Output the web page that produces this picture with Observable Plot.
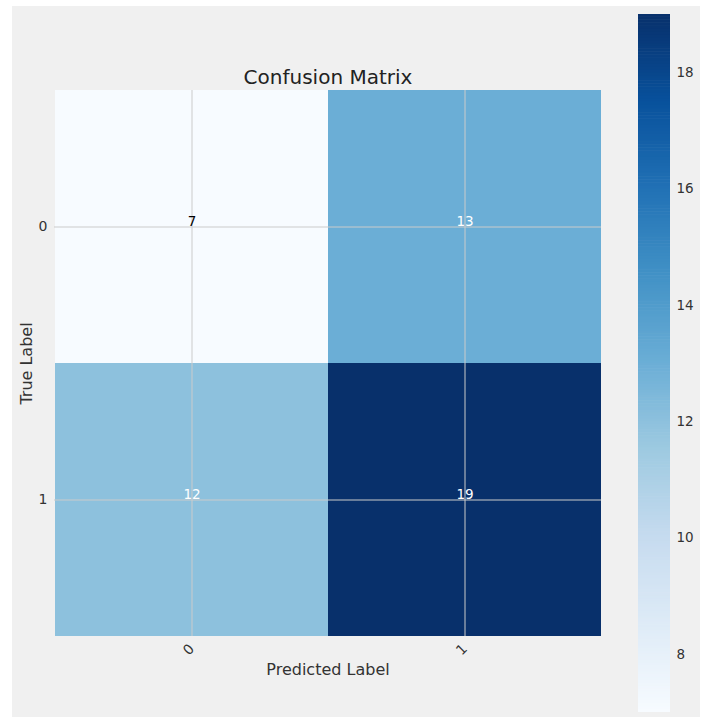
<!DOCTYPE html>
<html>
<head>
<meta charset="utf-8">
<script src="https://cdn.jsdelivr.net/npm/d3@7"></script>
<script src="https://cdn.jsdelivr.net/npm/@observablehq/plot@0.6"></script>
<style>
  html, body { margin: 0; padding: 0; background: #ffffff; }
  #wrap { position: relative; width: 704px; height: 717px; background: #ffffff; overflow: hidden; font-family: "DejaVu Sans", sans-serif; }
  #bg { position: absolute; left: 12px; top: 6px; width: 688px; height: 711px; background: #f0f0f0; }
  #wrap svg { position: absolute; left: 0; top: 0; background: transparent; }
</style>
</head>
<body>
<div id="wrap"><div id="bg"></div></div>
<script>
// Data
const predictedLabels = ["0", "1"];
const trueLabels = ["0", "1"];
const matrixValues = [
  [7, 13],
  [12, 19]
];
const colorbarTicks = [8, 10, 12, 14, 16, 18];
const chartTitle = "Confusion Matrix";
const xLabel = "Predicted Label";
const yLabel = "True Label";

// matplotlib "Blues" anchor colours
const bluesColors = ["#f7fbff","#deebf7","#c6dbef","#9ecae1","#6baed6","#4292c6","#2171b5","#08519c","#08306b"];
const vmin = 7, vmax = 19;
const colorDomain = bluesColors.map((_, i) => vmin + (vmax - vmin) * i / (bluesColors.length - 1));
const colorScale = {type: "linear", domain: colorDomain, range: bluesColors, interpolate: "rgb"};

const cells = [];
trueLabels.forEach((t, i) => predictedLabels.forEach((p, j) => cells.push({trueL: t, pred: p, value: matrixValues[i][j]})));
const thresh = d3.max(cells, d => d.value) / 2;

const W = 704, H = 717;
const wrap = document.getElementById("wrap");

const main = Plot.plot({
  width: W, height: H,
  marginLeft: 54, marginRight: 103, marginTop: 90, marginBottom: 81,
  style: {background: "transparent", fontFamily: "DejaVu Sans, sans-serif", fontSize: "13px", color: "#333333"},
  x: {domain: predictedLabels, padding: 0, label: null},
  y: {domain: trueLabels, padding: 0, label: null},
  color: colorScale,
  marks: [
    Plot.cell(cells, {x: "pred", y: "trueL", fill: "value", inset: 0}),
    Plot.gridX({stroke: "#cbcbcb", strokeOpacity: 1, strokeWidth: 1}),
    Plot.gridY({stroke: "#cbcbcb", strokeOpacity: 1, strokeWidth: 1}),
    Plot.text(cells, {x: "pred", y: "trueL", text: d => String(d.value), fill: d => d.value > thresh ? "white" : "black", fontSize: 13.5, dy: -5}),
    Plot.axisX({tickSize: 0, tickPadding: 10, tickRotate: -45, fontSize: 14, label: null, fill: "#333333"}),
    Plot.axisY({tickSize: 0, tickPadding: 7, fontSize: 14, label: null, fill: "#333333"}),
    Plot.text([chartTitle], {frameAnchor: "top", dy: -7, text: d => d, fontSize: 20, fill: "#222222", lineAnchor: "bottom"}),
    Plot.text([xLabel], {frameAnchor: "bottom", dy: 38, text: d => d, fontSize: 16, fill: "#333333", lineAnchor: "bottom"}),
    Plot.text([yLabel], {frameAnchor: "left", dx: -28, rotate: -90, textAnchor: "middle", text: d => d, fontSize: 16, fill: "#333333"})
  ]
});
wrap.appendChild(main);

// Colorbar
const step = 0.05;
const bands = d3.range(vmin, vmax, step).map(v => ({y1: v, y2: Math.min(vmax, v + step + 0.01), v: v + step / 2}));
const cbar = Plot.plot({
  width: W, height: H,
  marginLeft: 638, marginRight: 34, marginTop: 14, marginBottom: 5,
  style: {background: "transparent", fontFamily: "DejaVu Sans, sans-serif", fontSize: "13px", color: "#333333"},
  x: {domain: [0, 1], axis: null},
  y: {domain: [vmin, vmax], label: null},
  color: colorScale,
  marks: [
    Plot.rect(bands, {x1: 0, x2: 1, y1: "y1", y2: "y2", fill: "v"}),
    Plot.axisY({anchor: "right", ticks: colorbarTicks, tickSize: 0, tickPadding: 6, fontSize: 13.5, label: null, fill: "#333333"})
  ]
});
wrap.appendChild(cbar);
</script>
</body>
</html>
